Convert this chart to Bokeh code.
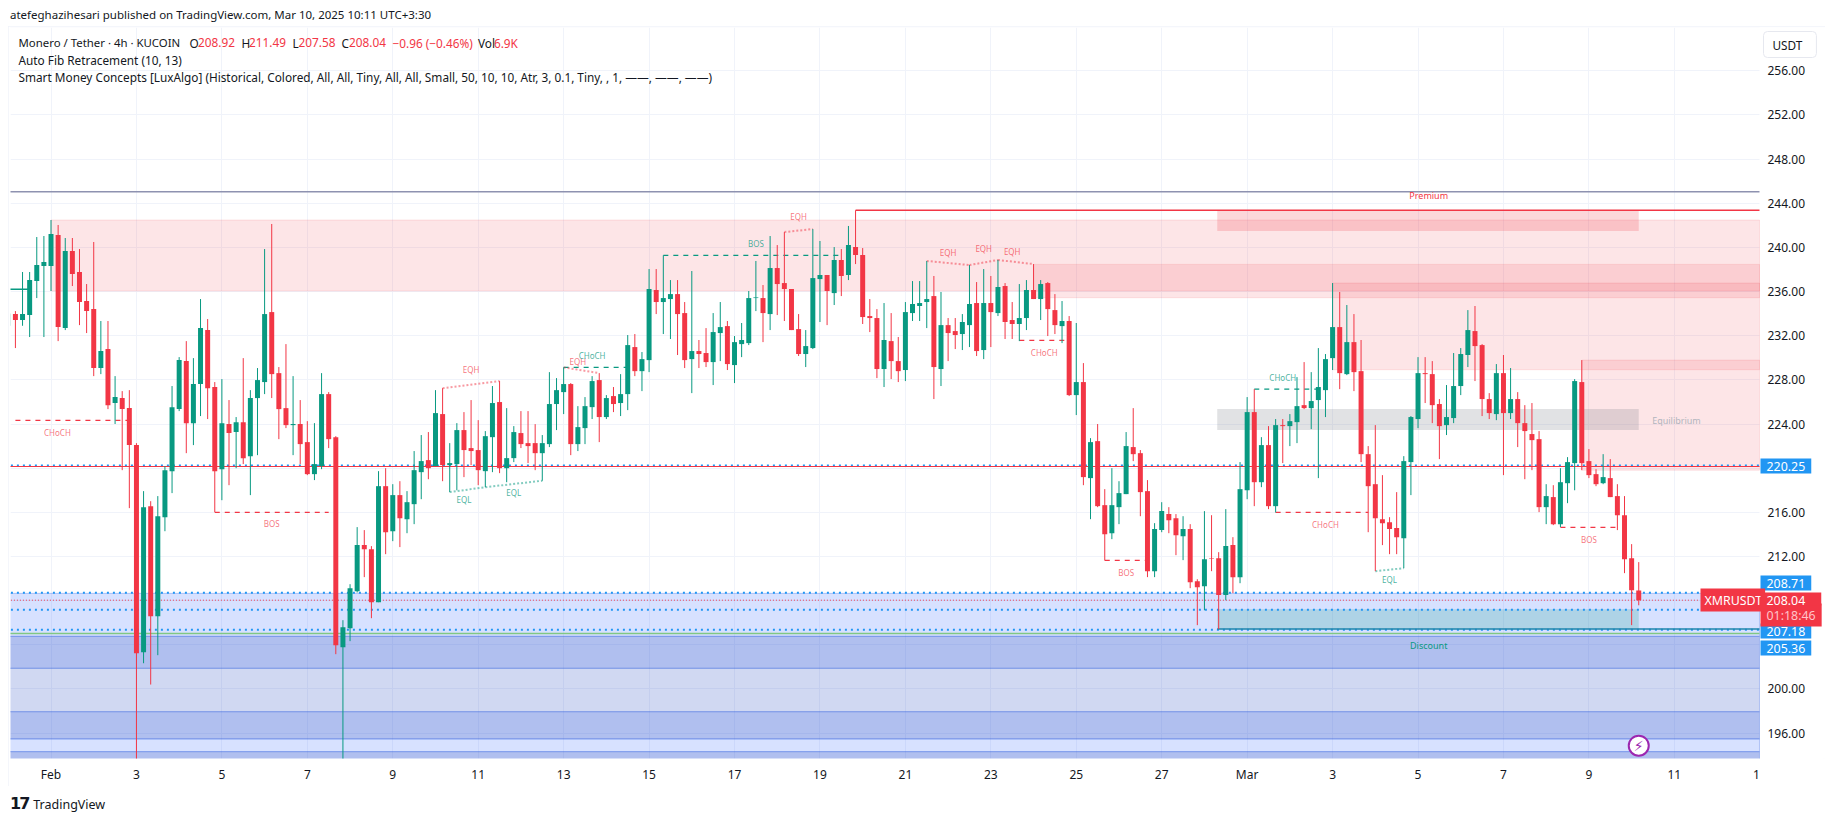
from bokeh.plotting import figure
from bokeh.embed import file_html
from bokeh.resources import INLINE
from bokeh.layouts import column
from bokeh.models import Range1d, FixedTicker, Label, Div, ColumnDataSource
from bokeh.core.properties import value

direction = ("grgggggrgr" "rrrgrgrrrg" "rggggrggrr" "grgrgggrrr" "grrggrrggg" "rrgrgrgggr"
             "grggrrrggr" "ggrrrggggr" "gggrgrggrg" "grggrrgrrg" "grggggrgrr" "rrgggrgrgr"
             "rrrgrrgggg" "rgrrggrgrg" "rrggrgrrgr" "grgrrgggrr" "rggrrgrrgr" "rgrggrgrgr"
             "ggrggggrgr" "rrrrrrgggr" "rrggggrrrg" "rgrrrrgrgg" "grrrgrrrrr")

highs = [
 234.4,234.23,237.77,237.77,240.94,241.03,242.48,242.03,240.85,240.85,
 239.85,236.68,240.49,233.33,233.33,228.34,226.98,227.07,222.27,217.92,
 217.01,217.47,220.19,227.44,230.06,231.51,229.97,235.32,233.51,227.80,
 228.07,226.17,224.63,229.97,227.07,229.07,239.85,242.12,229.16,231.24,
 228.34,226.17,224.26,224.08,228.61,226.89,222.90,206.23,209.49,214.66,
 214.39,212.94,219.73,220.0,218.55,218.82,217.92,221.55,223.0,223.27,
 227.07,227.25,222.27,224.08,225.08,226.17,224.35,223.36,227.44,227.89,
 225.44,223.81,225.17,225.17,223.99,223.0,228.70,228.16,229.13,227.71,
 225.62,226.44,228.34,228.61,226.62,227.35,228.52,232.06,232.15,230.52,
 238.04,238.04,239.28,237.04,237.04,235.05,237.86,231.61,232.69,234.05,
 235.05,233.33,231.97,233.15,236.05,238.77,236.59,241.03,240.21,241.39,
 236.23,233.96,232.51,241.66,240.58,237.5,240.03,239.85,241.94,243.36,
 239.94,235.32,234.41,234.96,234.05,231.88,235.05,236.95,236.95,238.77,
 237.41,235.96,233.60,233.60,233.96,238.40,236.86,238.04,237.41,238.86,
 236.77,235.05,236.68,237.04,238.49,237.04,236.86,235.77,235.14,233.78,
 233.15,229.52,222.72,224.0,218.10,220.0,218.82,223.27,225.44,221.64,
 218.92,215.02,216.92,216.47,215.84,215.65,214.93,209.94,216.11,215.74,
 212.39,216.29,213.75,220.55,226.44,227.16,222.81,223.81,224.45,224.45,
 224.90,228.25,229.61,228.70,230.88,230.34,236.77,235.96,234.78,233.96,
 231.61,222.0,223.90,219.37,215.56,217.83,221.09,224.72,230.06,230.06,
 229.70,226.26,227.53,230.43,230.88,234.32,234.69,231.24,226.80,229.43,
 230.25,229.07,226.89,225.71,225.90,223.36,218.55,218.46,220.0,221.0,
 228.07,229.79,221.73,219.91,221.27,220.82,218.55,217.47,213.12,211.49]

body_tops = [
 234.02,233.96,233.96,237.04,238.40,238.67,241.21,241.12,239.67,239.67,
 237.77,235.14,234.41,230.61,230.79,226.44,226.35,225.44,222.09,216.47,
 216.56,215.65,219.82,225.53,229.79,229.70,227.62,232.69,232.51,227.35,
 224.08,224.0,224.17,224.17,226.35,227.98,233.96,234.14,228.61,225.44,
 224.0,224.0,222.36,220.37,226.71,226.71,222.81,205.59,209.13,213.03,
 213.03,212.66,218.37,218.37,217.56,217.56,216.92,219.82,220.64,220.73,
 224.99,224.90,220.46,223.45,223.45,221.82,221.64,222.90,225.90,225.99,
 220.91,223.27,223.18,222.27,222.27,222.27,225.81,227.07,227.62,227.62,
 223.72,225.62,227.89,227.98,226.35,226.53,226.71,231.15,230.97,229.88,
 236.23,236.14,235.41,235.77,235.77,234.05,230.61,230.61,230.43,232.33,
 232.78,232.87,231.42,231.61,235.41,235.47,235.41,238.13,238.13,236.77,
 236.23,232.60,231.06,237.22,237.50,237.50,238.86,238.86,240.21,240.03,
 239.31,233.78,233.60,231.61,231.51,229.70,234.14,234.87,234.96,235.32,
 235.59,232.96,232.96,232.42,233.24,234.87,234.96,234.96,234.96,236.41,
 236.50,233.42,233.60,236.14,236.14,236.68,236.77,234.32,233.33,233.33,
 227.80,227.80,222.36,222.45,216.65,216.65,217.74,222.0,221.91,221.36,
 217.92,214.48,216.11,215.84,215.47,214.48,214.48,209.76,211.76,211.85,
 211.85,212.94,213.03,218.10,225.08,225.08,222.09,222.09,223.90,223.90,
 224.26,225.62,225.71,226.08,227.35,229.88,232.78,232.78,231.42,231.42,
 228.79,221.27,218.55,215.38,215.11,214.57,220.64,224.63,228.61,228.61,
 228.52,225.81,224.63,227.44,230.34,232.51,232.42,231.15,226.26,228.61,
 228.61,226.26,226.26,224.08,223.09,222.63,217.47,217.38,218.73,220.55,
 227.89,227.80,220.64,219.46,219.19,219.10,217.47,215.74,211.85,208.92]

body_bottoms = [
 232.90,233.42,233.42,233.87,236.95,238.31,238.31,232.78,232.69,237.59,
 235.05,234.23,229.07,229.07,225.71,225.90,225.35,222.09,203.24,203.33,
 206.59,206.59,215.56,219.73,225.35,224.08,224.08,227.62,227.25,219.73,
 219.91,223.18,223.27,220.91,221.09,226.35,227.80,228.52,225.35,223.90,
 223.90,222.18,219.46,219.46,220.19,222.63,203.96,203.78,205.50,208.86,
 212.66,207.86,207.86,214.20,214.29,215.47,215.38,216.74,219.64,220.0,
 220.19,220.28,220.28,220.37,221.64,221.55,219.82,219.73,222.81,220.0,
 220.0,220.91,222.18,222.0,221.36,221.36,222.18,225.81,226.89,222.18,
 222.18,223.63,225.53,224.63,224.63,225.81,225.90,226.71,228.79,228.79,
 229.79,235.05,235.05,235.32,233.96,229.79,229.88,230.34,229.61,229.61,
 232.24,229.43,229.34,231.24,231.33,235.41,234.05,233.96,236.68,236.23,
 232.51,230.34,230.34,230.88,237.13,236.05,235.86,237.41,237.50,239.31,
 233.69,233.60,228.98,228.98,229.70,228.79,228.89,234.05,234.69,235.05,
 229.16,228.98,232.24,232.06,232.15,232.96,230.61,230.70,234.14,234.05,
 233.24,233.06,233.06,233.60,235.32,235.32,234.41,232.96,232.87,226.62,
 226.62,219.19,219.10,216.56,214.02,214.11,216.47,217.65,221.27,217.83,
 210.67,210.67,214.39,215.29,213.93,213.84,209.67,209.22,209.31,211.79,
 208.50,208.50,210.13,210.13,218.0,218.73,218.73,216.56,216.56,223.81,
 223.81,224.17,225.44,225.44,226.17,227.07,229.97,228.61,228.52,228.70,
 221.27,218.37,215.47,215.02,214.48,213.75,213.66,220.55,224.45,228.52,
 225.71,223.81,223.90,224.54,227.44,230.25,231.06,226.26,224.99,224.90,
 224.99,224.99,224.08,223.36,222.54,216.47,216.47,214.93,214.93,218.64,
 220.46,220.46,219.37,218.55,218.64,217.38,215.74,211.76,208.95,208.04]

lows = [
 232.5,230.88,232.90,231.88,235.41,231.88,236.05,231.51,232.51,236.50,
 232.96,232.24,228.34,228.52,225.35,224.0,219.82,216.38,193.0,202.33,
 200.4,203.06,214.29,217.74,225.17,221.36,222.09,224.72,224.45,216.02,
 217.10,218.46,220.0,220.37,217.56,221.18,226.71,226.35,222.63,223.63,
 221.18,220.37,219.37,218.92,219.91,221.82,203.15,193.0,204.33,208.74,
 210.13,206.41,207.86,212.21,213.39,212.85,214.11,214.93,217.19,219.0,
 220.19,218.82,217.83,218.0,219.19,220.28,218.46,218.28,219.64,219.55,
 218.73,220.55,221.82,220.46,219.82,218.86,221.91,223.45,224.90,221.18,
 221.55,222.18,224.45,222.36,224.45,225.08,224.72,225.26,228.34,226.98,
 228.70,233.96,232.15,231.70,230.25,229.07,226.80,229.07,229.16,227.53,
 229.70,228.89,227.71,230.06,231.15,234.23,231.42,232.51,233.87,233.33,
 232.51,230.16,229.16,230.79,233.24,232.96,234.78,235.59,237.04,238.49,
 233.06,232.33,228.16,227.35,228.07,227.80,227.89,233.33,233.33,232.69,
 226.26,227.44,229.70,230.79,230.70,230.97,230.16,229.88,230.97,233.78,
 231.70,231.70,231.51,232.51,235.32,233.42,231.97,232.15,231.33,226.53,
 224.81,218.46,215.38,216.47,211.64,213.57,214.93,217.65,220.64,215.65,
 210.13,210.13,214.20,214.11,212.12,211.67,209.13,205.78,207.13,210.67,
 205.42,208.04,208.68,209.58,217.19,216.56,218.28,216.29,215.99,220.46,
 222.0,222.27,225.35,223.54,219.10,224.63,228.89,227.16,228.43,226.98,
 220.55,214.20,210.67,213.03,212.21,212.21,210.94,217.56,223.63,225.90,
 224.08,220.82,223.0,224.08,226.62,229.16,227.89,224.72,224.45,224.35,
 219.37,224.45,221.91,219.0,219.82,216.02,214.93,214.84,214.66,216.83,
 218.0,219.82,219.10,218.37,218.55,217.38,214.39,210.49,205.78,207.58]

# price axis
y_ticks = [196,200,204,208,212,216,220,224,228,232,236,240,244,248,252,256]
y_hidden = [204, 208, 220]
# time axis: candle number of each date label
x_tick_pos = [6+12*k for k in range(14)] + [174+12*k for k in range(6)]
x_tick_txt = ["Feb","3","5","7","9","11","13","15","17","19","21","23","25","27",
              "Mar","3","5","7","9","11"]

# Fib / order-block bands: (bottom, top)
pale_bands = [(204.77,208.66),(194.32,195.47)]
deep_bands = [(201.87,204.77),(195.47,197.94),(190.0,194.32)]
mute_bands = [(197.94,201.87)]
# red zones: (first candle, bottom, top)
red_zones = [(6,236.05,242.48),(144,235.44,238.46),(186,228.92,236.77),(221,219.82,229.79)]
# premium / equilibrium / discount blocks
block_x = (169.8,229.0)
premium_block = (241.48,243.36)
equilibrium_block = (223.45,225.35)
discount_block = (205.41,207.22)

# dashed structure breaks (first candle, last candle, price)
red_breaks = [(1,17,224.33),(29,45,215.99),(142,149,231.58),(154,160,211.64),(178,191,215.99),(218,226,214.63)]
green_breaks = [(78,87,229.13),(92,117,239.28),(175,184,227.16)]
# dotted equal highs / lows
eqh_x = [[61,69],[78,83],[109,113],[129,135],[135,139],[139,144]]
eqh_y = [[227.25,227.89],[229.13,228.61],[241.39,241.66],[238.77,238.40],[238.40,238.86],[238.86,238.49]]
eql_x = [[62,67],[67,75],[192,196]]
eql_y = [[217.83,218.28],[218.28,218.86],[210.67,210.94]]
# tiny labels
red_lab_x = [6.9,37,65,80,111,132,137,141,145.5,157,185,222]
red_lab_y = [223.2,214.99,228.95,229.64,242.78,239.55,239.91,239.64,230.49,210.55,214.9,213.54]
red_lab_t = ["CHoCH","BOS","EQH","EQH","EQH","EQH","EQH","EQH","CHoCH","BOS","CHoCH","BOS"]
green_lab_x = [64,71,82,105,179,194]
green_lab_y = [217.16,217.80,230.2,240.37,228.22,209.92]
green_lab_t = ["EQL","EQL","CHoCH","BOS","CHoCH","EQL"]

RED = "#f23645"; GREEN = "#089981"; BLUE = "#2196f3"; INK = "#131722"; FONT = "Noto Sans"
X0, X1, X_END = 0.31, 245.96, 255.23     # X1 is the chart pane's edge, X_END the price scale's edge
Y0, Y1 = 193.7, 259.92

p = figure(width=1817, height=760, output_backend="svg", toolbar_location=None,
           x_range=Range1d(X0, X_END), y_range=Range1d(Y0, Y1), y_axis_location="right",
           min_border_left=2, min_border_right=0, min_border_top=1, min_border_bottom=28,
           frame_width=1815, frame_height=731, outline_line_color=None, margin=(0,0,0,0))
p.styles = {"outline": "2px solid #f0f3fa", "outline-offset": "-2px"}

p.xaxis.ticker = FixedTicker(ticks=x_tick_pos + [245.54])
p.xaxis.major_label_overrides = {**dict(zip(x_tick_pos, x_tick_txt)), 245.54: "1"}
p.yaxis.ticker = FixedTicker(ticks=y_ticks)
p.yaxis.major_label_overrides = {t: ("" if t in y_hidden else f"{t}.00") for t in y_ticks}
p.yaxis[0].fixed_location = X1
for ax in (p.xaxis, p.yaxis):
    ax.axis_line_color = None
    ax.major_tick_line_color = None
    ax.minor_tick_line_color = None
    ax.major_tick_out = 0
    ax.major_tick_in = 0
    ax.major_label_text_color = INK
    ax.major_label_text_font = FONT
    ax.major_label_text_font_size = "12px"
p.xaxis.major_label_standoff = 7
p.yaxis.major_label_standoff = 8
p.yaxis.major_label_text_align = "left"
p.grid.grid_line_color = "#f0f3fa"
p.grid.grid_line_width = 1
p.xgrid[0].ticker = FixedTicker(ticks=x_tick_pos)

# the price scale hides the grid beyond the chart pane
p.quad(left=X1, right=X_END+1, bottom=Y0-1, top=Y1+1, fill_color="white", line_color=None)

# bands
def bands(rows, color, alpha):
    p.quad(left=X0-5, right=X1, bottom=[r[0] for r in rows], top=[r[1] for r in rows],
           fill_color=color, fill_alpha=alpha, line_color="#2f5fe0", line_alpha=0.3, line_width=1)
bands(pale_bands, "#2962ff", 0.19)
bands(deep_bands, "#1c47d0", 0.35)
bands(mute_bands, "#3357c8", 0.23)

# red zones
p.quad(left=[z[0] for z in red_zones], right=X1, bottom=[z[1] for z in red_zones], top=[z[2] for z in red_zones],
       fill_color=RED, fill_alpha=0.13, line_color=RED, line_alpha=0.12, line_width=1)

# blocks
for blk, col, alpha in ((premium_block, RED, 0.2), (equilibrium_block, "#787b86", 0.22), (discount_block, GREEN, 0.2)):
    p.quad(left=block_x[0], right=block_x[1], bottom=blk[0], top=blk[1], fill_color=col, fill_alpha=alpha, line_color=None)

# horizontal levels
def level(price, x0=X0-5, x1=X1, **kw):
    p.segment(x0=[x0], x1=[x1], y0=[price], y1=[price], **kw)
level(245.04, line_color="#8e92b0", line_width=1.5)
level(205.02, line_color="#81c784", line_width=1.5)
for lv in (220.25, 208.71, 207.18, 205.36):
    level(lv, line_color=BLUE, line_width=2, line_dash="2 4")
level(220.15, line_color=RED, line_width=1.2)
level(208.04, x1=237.6, line_color=RED, line_width=1, line_dash="1 2")
level(243.36, x0=119, line_color=RED, line_width=1.5)
level(205.42, x0=169.8, line_color="#1f86ad", line_width=1.5)
level(236.2, x1=3, line_color=GREEN, line_width=1.5)

# structure
p.segment(x0=[b[0] for b in red_breaks], x1=[b[1] for b in red_breaks], y0=[b[2] for b in red_breaks], y1=[b[2] for b in red_breaks],
          line_color=RED, line_width=1.2, line_dash="5 5")
p.segment(x0=[b[0] for b in green_breaks], x1=[b[1] for b in green_breaks], y0=[b[2] for b in green_breaks], y1=[b[2] for b in green_breaks],
          line_color=GREEN, line_width=1.2, line_dash="5 5")
p.multi_line(eqh_x, eqh_y, line_color=RED, line_alpha=0.5, line_width=2, line_dash="2 2")
p.multi_line(eql_x, eql_y, line_color=GREEN, line_alpha=0.5, line_width=2, line_dash="2 2")

# candles
n = len(direction)
assert n == len(highs) == len(lows) == len(body_tops) == len(body_bottoms) == 230
colors = [GREEN if d == "g" else RED for d in direction]
src = ColumnDataSource(dict(x=list(range(n)), h=highs, l=lows, t=body_tops, b=body_bottoms, c=colors))
p.segment(x0="x", x1="x", y0="l", y1="h", line_color="c", line_width=1, source=src)
p.vbar(x="x", width=0.7, top="t", bottom="b", fill_color="c", line_color=None, source=src)

# tiny labels
p.text(red_lab_x, red_lab_y, text=red_lab_t, text_color=RED, text_alpha=0.7, text_font=value(FONT),
       text_font_size="8px", text_align="center", text_baseline="middle")
p.text(green_lab_x, green_lab_y, text=green_lab_t, text_color=GREEN, text_alpha=0.75, text_font=value(FONT),
       text_font_size="8px", text_align="center", text_baseline="middle")
p.text([199.5], [244.66], text=["Premium"], text_color=RED, text_font=value(FONT), text_font_size="9px",
       text_align="center", text_baseline="middle")
p.text([199.5], [203.9], text=["Discount"], text_color=GREEN, text_font=value(FONT), text_font_size="9px",
       text_align="center", text_baseline="middle")
p.text([234.3], [224.35], text=["Equilibrium"], text_color="#b2b5be", text_font=value(FONT), text_font_size="9px",
       text_align="center", text_baseline="middle")

# lightning marker
p.scatter([229.0], [194.86], size=20, fill_color="white", line_color="#9c27b0", line_width=2)
p.text([229.0], [194.86], text=["\u26a1"], text_color="#9c27b0", text_font=value("DejaVu Sans"), text_font_size="14px",
       text_align="center", text_baseline="middle")

# legend & tags (screen offsets from the plot's left / bottom)
FL, FB = 10, 758
def txt(s, ax, ay, color=INK, size="11.8px", **kw):
    l = Label(x=ax-FL, y=FB-ay, x_units="screen", y_units="screen", text=s, text_color=color, text_font=FONT,
              text_font_size=size, text_baseline="middle", **kw)
    p.add_layout(l)

txt("Monero / Tether \u00b7 4h \u00b7 KUCOIN", 18, 42, size="11.4px")
for s, ax, col in (("O", 189, INK), ("208.92", 197.5, RED), ("H", 241, INK),
                   ("211.49", 248.5, RED), ("L", 292, INK), ("207.58", 298, RED), ("C", 341, INK), ("208.04", 348.5, RED),
                   ("\u22120.96 (\u22120.46%)", 392, RED), ("Vol", 477.5, INK), ("6.9K", 493.4, RED)):
    txt(s, ax, 42, col)
txt("Auto Fib Retracement (10, 13)", 18, 59)
txt("Smart Money Concepts [LuxAlgo] (Historical, Colored, All, All, Tiny, All, All, Small, 50, 10, 10, Atr, 3, 0.1, Tiny, , 1, \u2014\u2014, \u2014\u2014, \u2014\u2014)", 18, 76)

def tag(s, mid, ax, bg, color="white", l=6, r=6, t=3, b=3, size="12.4px"):
    txt(s, ax, mid, color, size=size, background_fill_color=bg, padding=dict(left=l, right=r, top=t, bottom=b))

tag("220.25", 465.5, 1760, BLUE)
tag("208.71", 582.5, 1760, BLUE)
tag("207.18", 630.5, 1760, BLUE)
tag("205.36", 647.5, 1760, BLUE)
tag("XMRUSDT", 599.5, 1700, RED, l=4, r=3)
tag("01:18:46", 614.5, 1760, RED, color="#ffc4c9", r=6)
tag("208.04", 598.5, 1760, RED, r=16, b=1)
txt("USDT", 1763, 44, border_line_color="#e6e8ef", padding=dict(left=9, right=14, top=5, bottom=5), border_radius=4)

header = Div(text="atefeghazihesari published on TradingView.com, Mar 10, 2025 10:11 UTC+3:30",
             width=1817, height=18, margin=(0,0,0,0),
             styles={"font-family": FONT, "font-size": "11.5px", "color": INK, "padding-left": "2px", "line-height": "14px"})
footer = Div(text="<span style='font-family:DejaVu Sans;font-weight:bold;font-size:16px;letter-spacing:-2px'>17</span>"
                  "<span style='margin-left:5px'>TradingView</span>",
             width=1817, height=27, margin=(0,0,0,0),
             styles={"font-family": FONT, "font-size": "12.5px", "color": INK, "padding-left": "2px", "padding-top": "7px"})

open("out.html", "w").write(file_html(column(header, p, footer, spacing=0, margin=(8,0,0,8)), INLINE))
